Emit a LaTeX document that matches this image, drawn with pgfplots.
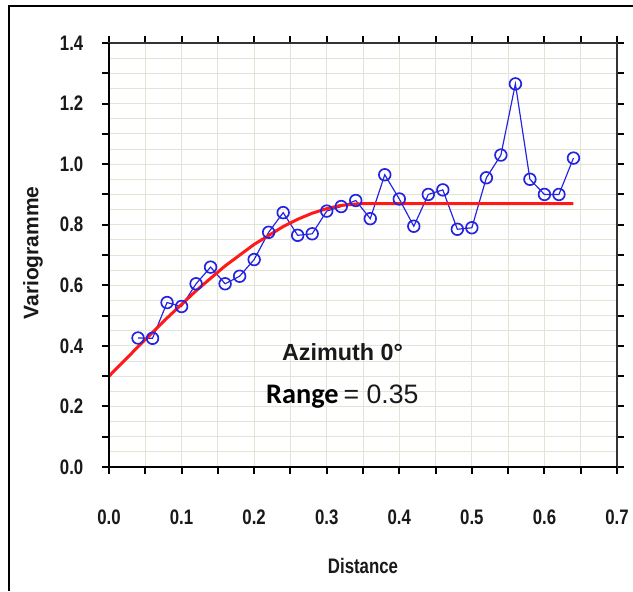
\documentclass[border=0pt]{standalone}
\usepackage{pgfplots}
\pgfplotsset{compat=1.18}
\usepackage{fontspec}
\setmainfont{Liberation Sans}
\newfontfamily\arialf{Liberation Sans}
\newfontfamily\narrowfont{Liberation Sans}[FakeStretch=0.8]
\newfontfamily\carlito{Carlito}
\definecolor{gridc}{RGB}{228,228,214}
\definecolor{ptblue}{RGB}{35,35,225}
\definecolor{modred}{RGB}{255,25,25}
\definecolor{txt}{RGB}{25,25,25}
\begin{document}
\begin{tikzpicture}
\useasboundingbox (0,0) rectangle (379.8pt,354.6pt);
\fill[white] (0,0) rectangle (379.8pt,354.6pt);
\draw[line width=1.5pt] (5.4pt,0) -- (5.4pt,351pt) -- (379.8pt,351pt);
\begin{axis}[
  at={(65.4pt,74.4pt)}, anchor=south west,
  scale only axis, width=304.8pt, height=254.4pt,
  xmin=0, xmax=0.7, ymin=0, ymax=1.4,
  xtick={0,0.1,0.2,0.3,0.4,0.5,0.6,0.7},
  xticklabels={0.0,0.1,0.2,0.3,0.4,0.5,0.6,0.7},
  ytick={0,0.1,0.2,0.3,0.4,0.5,0.6,0.7,0.8,0.9,1.0,1.1,1.2,1.3,1.4},
  yticklabels={0.0,,0.2,,0.4,,0.6,,0.8,,1.0,,1.2,,1.4},
  minor x tick num=1, minor y tick num=1,
  grid=both,
  major grid style={gridc, line width=0.6pt},
  minor grid style={gridc, line width=0.6pt},
  tick align=outside,
  major tick length=4.2pt,
  minor tick length=4.2pt,
  minor y tick style={draw=none},
  tick style={black, line width=1.2pt},
  axis line style={draw=black!80, line width=0.9pt},
  ticklabel style={font=\fontsize{12.6pt}{14pt}\narrowfont\bfseries, text=txt},
  xticklabel style={anchor=north, inner sep=0pt, yshift=-21pt},
  yticklabel style={anchor=east, inner sep=0pt, xshift=-11pt},
  xlabel={Distance},
  ylabel={Variogramme},
  xlabel style={font=\fontsize{12.6pt}{14pt}\narrowfont\bfseries, text=txt, at={(axis description cs:0.5,-0.2335)}, anchor=center},
  ylabel style={font=\fontsize{12.6pt}{14pt}\selectfont\bfseries, text=txt, at={(axis description cs:-0.1496,0.505)}, anchor=center},
  clip=false,
]
\addplot[ptblue, line width=0.7pt, mark=o, mark size=3.5pt, mark options={line width=1pt}] coordinates {
(0.04,0.426) (0.06,0.425) (0.08,0.543) (0.10,0.530) (0.12,0.605) (0.14,0.660)
(0.16,0.605) (0.18,0.630) (0.20,0.685) (0.22,0.775) (0.24,0.840) (0.26,0.765)
(0.28,0.770) (0.30,0.845) (0.32,0.860) (0.34,0.880) (0.36,0.820) (0.38,0.965)
(0.40,0.885) (0.42,0.795) (0.44,0.900) (0.46,0.915) (0.48,0.785) (0.50,0.790)
(0.52,0.955) (0.54,1.030) (0.56,1.265) (0.58,0.950) (0.60,0.900) (0.62,0.900)
(0.64,1.020)
};
\addplot[modred, line width=1.8pt] coordinates {
(0,0.300) (0.04,0.397) (0.08,0.492) (0.12,0.582) (0.16,0.664) (0.20,0.735)
(0.24,0.794) (0.26,0.818) (0.28,0.838) (0.30,0.853) (0.32,0.864) (0.35,0.870)
(0.64,0.870)
};
\draw[black, line width=1.6pt] (rel axis cs:0,1) -- (rel axis cs:0,0) -- (rel axis cs:1,0);
\node[anchor=base west, inner sep=0pt, text=txt] at (axis cs:0.238,0.353) {\fontsize{14pt}{16pt}\arialf\bfseries Azimuth 0°};
\node[anchor=base west, inner sep=0pt, text=black] at (axis cs:0.216,0.21) {\fontsize{17pt}{19pt}\carlito\bfseries Range\hspace{3pt}\fontsize{16pt}{18pt}\arialf\mdseries\color{txt}{= 0.35}};
\end{axis}
\end{tikzpicture}
\end{document}
